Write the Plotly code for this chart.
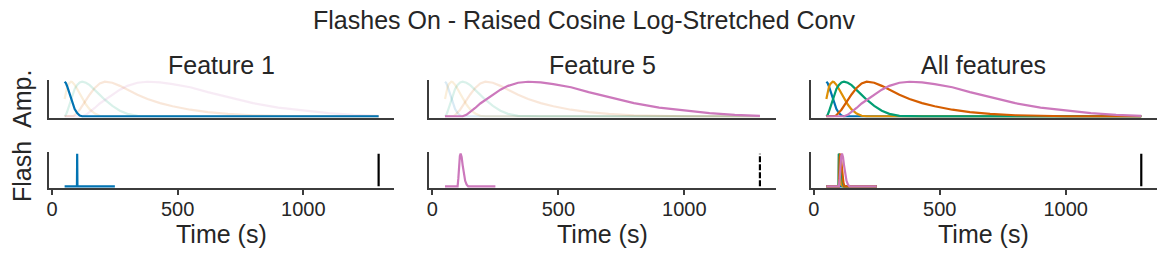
import plotly.graph_objects as go

# ---------------- data ----------------
t_amp = [50, 55, 60, 65, 70, 75, 80, 85, 90, 100, 110, 120, 135, 150, 170, 190, 210,
         240, 270, 300, 340, 380, 430, 480, 550, 620, 700, 800, 900, 1000, 1100, 1200, 1300]

amp_f1 = [1.0, 0.96, 0.87, 0.75, 0.63, 0.51, 0.39, 0.30, 0.21, 0.09, 0.02, 0.0, 0.0, 0.0, 0.0, 0.0, 0.0,
          0.0, 0.0, 0.0, 0.0, 0.0, 0.0, 0.0, 0.0, 0.0, 0.0, 0.0, 0.0, 0.0, 0.0, 0.0, 0.0]
amp_f2 = [0.5, 0.69, 0.84, 0.93, 0.98, 1.0, 0.99, 0.96, 0.91, 0.79, 0.65, 0.52, 0.34, 0.20, 0.08, 0.015, 0.0,
          0.0, 0.0, 0.0, 0.0, 0.0, 0.0, 0.0, 0.0, 0.0, 0.0, 0.0, 0.0, 0.0, 0.0, 0.0, 0.0]
amp_f3 = [0.0, 0.04, 0.13, 0.25, 0.37, 0.50, 0.61, 0.70, 0.79, 0.91, 0.98, 1.0, 0.97, 0.90, 0.77, 0.62, 0.48,
          0.30, 0.16, 0.07, 0.01, 0.0, 0.0, 0.0, 0.0, 0.0, 0.0, 0.0, 0.0, 0.0, 0.0, 0.0, 0.0]
amp_f4 = [0.0, 0.0, 0.0, 0.0, 0.0, 0.0, 0.0, 0.01, 0.03, 0.10, 0.19, 0.30, 0.47, 0.63, 0.82, 0.95, 1.0,
          0.97, 0.88, 0.76, 0.62, 0.50, 0.38, 0.29, 0.19, 0.12, 0.07, 0.03, 0.01, 0.0, 0.0, 0.0, 0.0]
amp_f5 = [0.0, 0.0, 0.0, 0.0, 0.0, 0.0, 0.0, 0.0, 0.0, 0.0, 0.0, 0.0, 0.04, 0.12, 0.24, 0.37, 0.47,
          0.63, 0.77, 0.88, 0.97, 1.0, 0.98, 0.93, 0.84, 0.70, 0.55, 0.38, 0.25, 0.16, 0.09, 0.04, 0.01]

flash_t1 = [50, 99, 100, 101, 250]
flash_f1 = [0.0, 0.0, 1.0, 0.0, 0.0]
flash_t2 = [50, 99, 100, 102, 104, 106, 110, 115, 250]
flash_f2 = [0.0, 0.0, 1.0, 0.8, 0.45, 0.2, 0.05, 0.0, 0.0]
flash_t3 = [50, 99, 100, 104, 108, 112, 116, 120, 250]
flash_f3 = [0.0, 0.0, 1.0, 0.85, 0.55, 0.25, 0.08, 0.0, 0.0]
flash_t4 = [50, 100, 103, 106, 110, 114, 118, 122, 250]
flash_f4 = [0.0, 0.0, 0.9, 1.0, 0.7, 0.35, 0.1, 0.0, 0.0]
flash_t5 = [50, 100, 103, 106, 109, 112, 116, 120, 125, 130, 136, 142, 250]
flash_f5 = [0.0, 0.0, 0.25, 0.65, 0.93, 1.0, 0.9, 0.65, 0.38, 0.17, 0.05, 0.0, 0.0]

end_t = [1300, 1300]
end_v = [0.0, 1.0]

amps = [amp_f1, amp_f2, amp_f3, amp_f4, amp_f5]
flashes = [(flash_t1, flash_f1), (flash_t2, flash_f2), (flash_t3, flash_f3),
           (flash_t4, flash_f4), (flash_t5, flash_f5)]

titles = ["Feature 1", "Feature 5", "All features"]
x_ticks = [0, 500, 1000]
x_ticklabels = ["0", "500", "1000"]

# ---------------- style ----------------
colors = ["#0173b2", "#de8f05", "#029e73", "#d55e00", "#cc78bc"]
faint = ["rgba(1,115,178,0.15)", "rgba(222,143,5,0.15)", "rgba(2,158,115,0.15)",
         "rgba(213,94,0,0.15)", "rgba(204,120,188,0.15)"]
FONT = "Liberation Sans, Arial, sans-serif"
TXT = "#262626"
SPINE = "#3c3c3c"
LW = 2.2

fig = go.Figure()

def line(x, y, color, xa, ya, width=LW, dash="solid"):
    fig.add_trace(go.Scatter(x=x, y=y, mode="lines", xaxis=xa, yaxis=ya,
                             line=dict(color=color, width=width, dash=dash),
                             showlegend=False, hoverinfo="skip"))

# Feature 1 panel
for i in range(5):
    if i != 0:
        line(t_amp, amps[i], faint[i], "x", "y")
line(t_amp, amps[0], colors[0], "x", "y")
line(flashes[0][0], flashes[0][1], colors[0], "x4", "y4")
line(end_t, end_v, "black", "x4", "y4")

# Feature 5 panel
for i in range(4):
    line(t_amp, amps[i], faint[i], "x2", "y2")
line(t_amp, amps[4], colors[4], "x2", "y2")
line(flashes[4][0], flashes[4][1], colors[4], "x5", "y5")
line(end_t, end_v, "black", "x5", "y5", dash="6px,2px")

# All features panel
for i in range(5):
    line(t_amp, amps[i], colors[i], "x3", "y3")
for i in range(5):
    line(flashes[i][0], flashes[i][1], colors[i], "x6", "y6")
line(end_t, end_v, "black", "x6", "y6")

xdoms = [[47 / 1166, 393 / 1166], [428 / 1166, 775 / 1166], [810 / 1166, 1157 / 1166]]
ytop = [143 / 261, 181 / 261]
ybot = [73 / 261, 109 / 261]

layout = dict(width=1166, height=261, margin=dict(l=0, r=0, t=0, b=0),
              paper_bgcolor="white", plot_bgcolor="white",
              font=dict(family=FONT, color=TXT))

for k in range(6):
    col = k % 3
    top = k < 3
    xn = "xaxis" if k == 0 else f"xaxis{k + 1}"
    yn = "yaxis" if k == 0 else f"yaxis{k + 1}"
    ax_id = "" if k == 0 else str(k + 1)
    xa = dict(domain=xdoms[col], range=[-12.5, 1362.5], anchor="y" + ax_id,
              showline=True, linecolor=SPINE, linewidth=2, showgrid=False, zeroline=False,
              fixedrange=True)
    if top:
        xa.update(showticklabels=False, ticks="")
    else:
        xa.update(tickmode="array", tickvals=x_ticks, ticktext=x_ticklabels, ticks="outside",
                  ticklen=5, tickwidth=1.5, tickcolor=SPINE, ticklabelstandoff=-3,
                  tickfont=dict(size=20, family=FONT, color=TXT))
    ya = dict(domain=ytop if top else ybot, range=[-0.05, 1.05], anchor="x" + ax_id,
              showline=True, linecolor=SPINE, linewidth=2, showgrid=False, zeroline=False,
              showticklabels=False, ticks="", fixedrange=True)
    layout[xn] = xa
    layout[yn] = ya

anns = [dict(text="Flashes On - Raised Cosine Log-Stretched Conv", x=583 / 1166, y=1 - 20 / 261,
             xref="paper", yref="paper", showarrow=False, xanchor="center", yanchor="middle",
             font=dict(size=25, family=FONT, color=TXT))]
for col, title in enumerate(titles):
    cx = (xdoms[col][0] + xdoms[col][1]) / 2
    anns.append(dict(text=title, x=cx, y=1 - 65 / 261, xref="paper", yref="paper", showarrow=False,
                     xanchor="center", yanchor="middle", font=dict(size=25, family=FONT, color=TXT)))
    # x axis label of the bottom row
    anns.append(dict(text="Time (s)", x=cx, y=1 - 234 / 261, xref="paper", yref="paper", showarrow=False,
                     xanchor="center", yanchor="middle", font=dict(size=25, family=FONT, color=TXT)))
anns.append(dict(text="Amp.", x=20 / 1166, y=1 - 99 / 261, xref="paper", yref="paper", showarrow=False,
                 textangle=-90, xanchor="center", yanchor="middle", font=dict(size=25, family=FONT, color=TXT)))
anns.append(dict(text="Flash", x=20 / 1166, y=1 - 171 / 261, xref="paper", yref="paper", showarrow=False,
                 textangle=-90, xanchor="center", yanchor="middle", font=dict(size=25, family=FONT, color=TXT)))
layout["annotations"] = anns

fig.update_layout(**layout)
fig.write_html("out.html")
